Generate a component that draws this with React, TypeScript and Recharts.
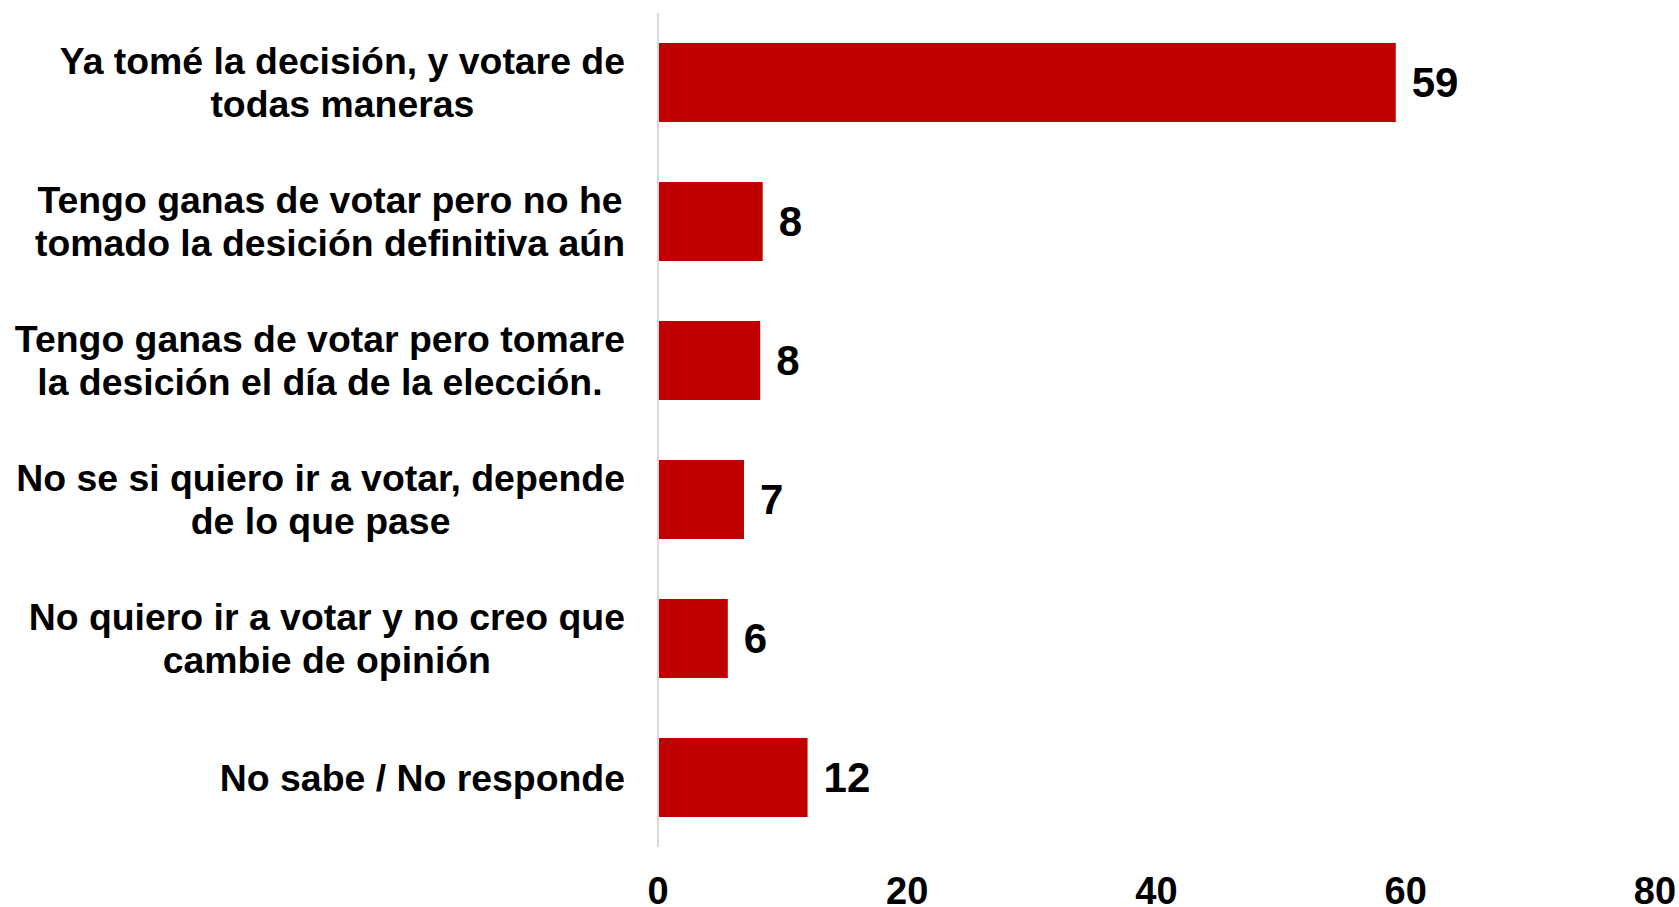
import React from "react";
import { BarChart, Bar, XAxis, YAxis, LabelList } from "recharts";

// categorías (con saltos de línea tal como aparecen)
const categories = [
  "Ya tomé la decisión, y votare de\ntodas maneras",
  "Tengo ganas de votar pero no he\ntomado la desición definitiva aún",
  "Tengo ganas de votar pero tomare\nla desición el día de la elección.",
  "No se si quiero ir a votar, depende\nde lo que pase",
  "No quiero ir a votar y no creo que\ncambie de opinión",
  "No sabe / No responde",
];

const values = [59.2, 8.4, 8.2, 6.9, 5.6, 12.0];

const xTicks = [0, 20, 40, 60, 80];

const data = categories.map((name, i) => ({ name, value: values[i] }));

const FONT = "'Liberation Sans', Arial, sans-serif";
const LABEL_SIZE = 37.4;

let ctx: CanvasRenderingContext2D | null = null;
function measure(text: string) {
  if (!ctx) ctx = document.createElement("canvas").getContext("2d");
  if (!ctx) return text.length * LABEL_SIZE * 0.55;
  ctx.font = `bold ${LABEL_SIZE}px ${FONT}`;
  return ctx.measureText(text).width;
}

// etiqueta multilínea: bloque alineado a la derecha, líneas centradas
function CategoryTick(props: any) {
  const { x, y, payload } = props;
  const lines: string[] = String(payload.value).split("\n");
  const w = Math.max(...lines.map(measure));
  const cx = x - w / 2;
  const lh = 43;
  const startY = y - ((lines.length - 1) * lh) / 2;
  return (
    <text
      textAnchor="middle"
      fontFamily={FONT}
      fontWeight="bold"
      fontSize={LABEL_SIZE}
      fill="#000"
    >
      {lines.map((l, i) => (
        <tspan key={i} x={cx} y={startY + i * lh} dy="0.36em">
          {l}
        </tspan>
      ))}
    </text>
  );
}

export default function App() {
  return (
    <div style={{ width: 1679, height: 907 }}>
      <style>{`body{margin:0}`}</style>
      <BarChart
        width={1679}
        height={907}
        data={data}
        layout="vertical"
        margin={{ top: 13, right: 24, bottom: 0, left: 0 }}
        barCategoryGap={30}
      >
        <XAxis
          type="number"
          domain={[0, 80]}
          ticks={xTicks}
          axisLine={false}
          tickLine={false}
          tickSize={0}
          tickMargin={30}
          height={60}
          interval={0}
          tick={{ fill: "#000", fontSize: 38, fontWeight: "bold", fontFamily: FONT }}
        />
        <YAxis
          type="category"
          dataKey="name"
          width={658}
          axisLine={{ stroke: "#d9d9d9", strokeWidth: 2 }}
          tickLine={false}
          tickSize={0}
          tickMargin={33}
          interval={0}
          tick={<CategoryTick />}
        />
        <Bar dataKey="value" fill="#C00000" barSize={79} isAnimationActive={false}>
          <LabelList
            dataKey="value"
            position="right"
            offset={16}
            formatter={(v: any) => Math.round(Number(v))}
            style={{ fill: "#000", fontSize: 42, fontWeight: "bold", fontFamily: FONT }}
          />
        </Bar>
      </BarChart>
    </div>
  );
}
